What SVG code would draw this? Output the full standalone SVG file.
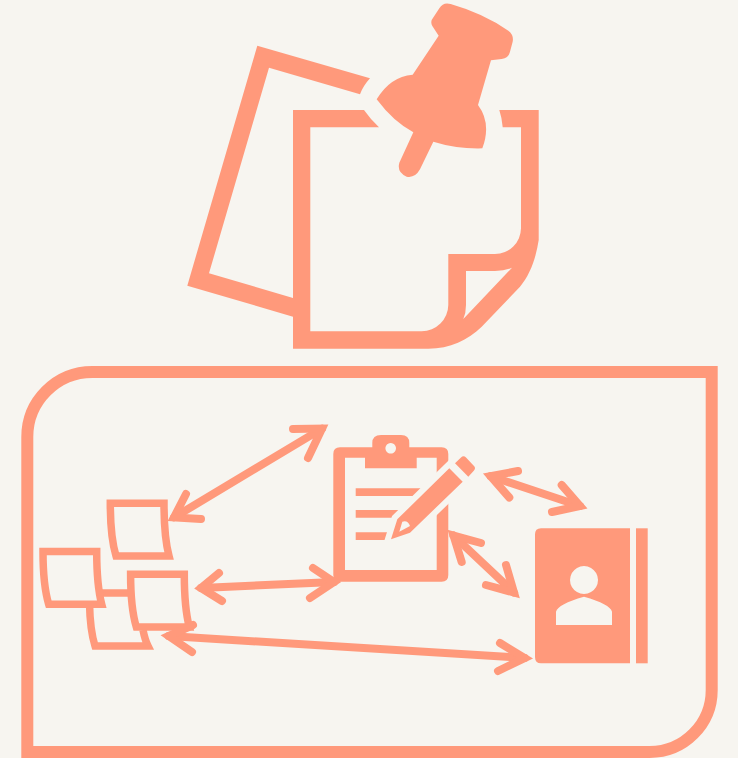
<svg xmlns="http://www.w3.org/2000/svg" width="738" height="758" viewBox="0 0 738 758">
<style>
.f{fill:#ff997b}
.n{fill:none;stroke:#ff997b;stroke-width:7.500}
.a{fill:none;stroke:#ff997b;stroke-width:8;stroke-linecap:round;stroke-linejoin:miter;stroke-miterlimit:10}
</style>
<rect width="738" height="758" fill="#f7f5f0"/>
<g id="frame"><path class="n" style="stroke-width:12" d="M27.300 752V437A65 65 0 0 1 92.300 372H711.700V690A62 62 0 0 1 649.700 752Z"/></g>
<g id="back-note"><path class="f" d="M257.300 45.700L370 78.300Q363 86 360 94.300L269 67.700L209 273.300L293 298V316.700L187.300 285.700Z"/></g>
<g id="front-note"><path class="f" fill-rule="evenodd" d="M293 110H364Q371 120 379 127.300H310.300V331.300H421.700A26.600 26.600 0 0 0 448.300 305V254H495A26 26 0 0 0 521 228.300V127.300H502.700Q502 118 499.300 110H538.700V240C536 258 530 275 520 286.700L481.700 326.700C468 340 450 348.700 428.300 348.700H293ZM466 271V305Q466 313 463.300 319L512 267.700Q505 271 495 271Z"/></g>
<g id="pin"><path class="f" transform="translate(180 0) scale(.33333)" d="M755 60L778 25Q790 5 812 12Q910 40 985 92Q1002 105 998 125L990 155Q985 175 965 177L933 181L894 315Q935 370 907 445Q830 447 760 425L720 508Q705 535 680 530Q650 518 658 488L700 397Q640 365 590 298Q630 230 698 224L776 107L757 78Q752 70 755 60Z"/></g>
<g id="note-a"><path class="n" d="M110.300 503.300H164Q164 537 169 556H116Q110.300 537 110.300 503.300Z"/></g>
<g id="note-d"><path class="n" d="M101 593H128M89.500 603Q90 630 95 646H148Q145 640 143 630"/></g>
<g id="note-b"><path class="n" d="M43 551.600H96.700Q96.700 585.300 101.700 604.300H48.700Q43 585.300 43 551.600Z"/></g>
<g id="note-c"><path class="n" d="M130.600 574.300H184.300Q184.300 608 189.300 627H136.300Q130.600 608 130.600 574.300Z"/></g>
<g id="clipboard">
<path class="f" fill-rule="evenodd" d="M340 447.300H372.300V443Q372.300 435 381 435H401Q409.300 435 409.300 443V447.300H441.600Q448.300 447.300 448.300 454V575Q448.300 581.700 441.600 581.700H340Q333.300 581.700 333.300 575V454Q333.300 447.300 340 447.300ZM345 457.700V570H436.700V457.700H416.700V468.300H365V457.700ZM390.700 443A5.300 5.300 0 1 0 390.701 443Z"/>
<path class="f" d="M355.700 488.300H421L415 496H355.700ZM355.700 510H399.300L392.700 517.700H355.700ZM355.700 532.300H388.300L385.700 540H355.700Z"/>
</g>
<g id="pencil">
<path d="M449.300 468.300L462.700 481.700L410 532.700L391 539.300L397.300 519.300Z" fill="#f7f5f0" stroke="#f7f5f0" stroke-width="12"/>
<path class="f" fill-rule="evenodd" d="M449.300 468.300L462.700 481.700L410 532.700L391 539.300L397.300 519.300ZM399.300 531.700L402.300 521.700Q408 520 410 526Z"/>
<path class="f" d="M455 463.300L461 457.500Q463.500 455 466 457.500L474 466Q476 468 474 470.500L468.300 476.700Z"/>
</g>
<g id="address-book">
<path class="f" fill-rule="evenodd" d="M541 528.300H630V663.300H541Q535 663.300 535 657V534.300Q535 528.300 541 528.300ZM584 566A14 14 0 1 0 584.010 566ZM556 625H612V611.700Q610 604 584 596.700Q558 604 556 611.700Z"/>
<rect class="f" x="636" y="528.300" width="11.700" height="135"/>
</g>
<g id="connectors">
<path class="a" d="M322 428.600L174 517.400"/>
<path class="a" d="M293 429L322 428.600L308 458"/>
<path class="a" d="M186 494L174 517.400L201 519"/>
<path class="a" d="M201 588L334 582"/>
<path class="a" d="M219 573L201 588L222 601"/>
<path class="a" d="M313 568L334 582L310 598"/>
<path class="a" d="M168.700 636L524.700 658"/>
<path class="a" d="M193 625L168.700 636L192 652"/>
<path class="a" d="M500 643L524.700 658L498 671"/>
<path class="a" d="M453.500 535.600L514 592.600"/>
<path class="a" d="M481 543L453.500 535.600L461.700 562"/>
<path class="a" d="M506 565L514 592.600L486 585"/>
<path class="a" d="M490.600 476.200L580 506"/>
<path class="a" d="M518 471L490.600 476.200L509.300 497.500"/>
<path class="a" d="M561.700 485L580 506L552 512"/>
</g>
</svg>
